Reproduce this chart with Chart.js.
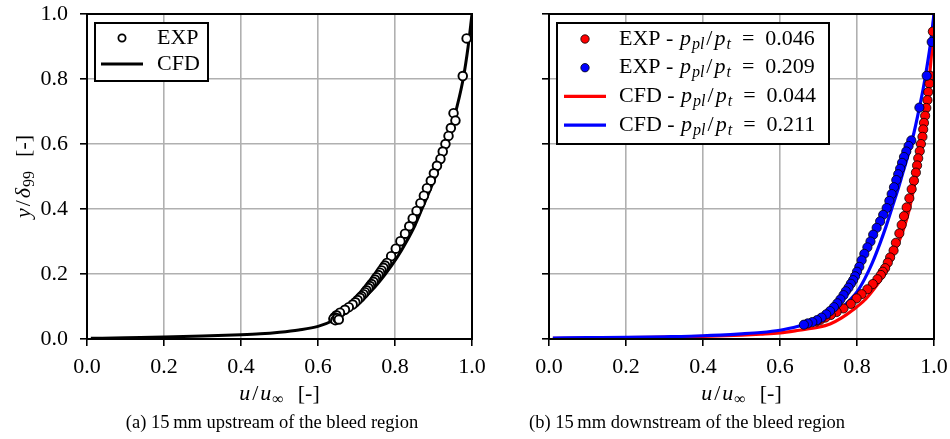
<!DOCTYPE html>
<html>
<head>
<meta charset="utf-8">
<script src="https://cdn.jsdelivr.net/npm/chart.js@4.4.1/dist/chart.umd.min.js"></script>
<style>
    html, body { margin: 0; padding: 0; background: #fff; }
    #wrap { position: relative; width: 950px; height: 439px; overflow: hidden; }
    canvas { position: absolute; top: 0; }
    #left { left: 0; }
    #right { left: 480px; }
</style>
</head>
<body>
<div id="wrap">
    <canvas id="left" width="510" height="439"></canvas>
    <canvas id="right" width="470" height="439"></canvas>
</div>
<script>
// Ticks
const uTicks = [0, 0.2, 0.4, 0.6, 0.8, 1.0];
const yTicks = [0, 0.2, 0.4, 0.6, 0.8, 1.0];
const tickLabels = ["0.0", "0.2", "0.4", "0.6", "0.8", "1.0"];

// Captions / legend text
const captions = ["(a) 15\u2009mm upstream of the bleed region", "(b) 15\u2009mm downstream of the bleed region"];
const seriesNames = ["EXP", "CFD"];
const expRatios = ["0.046", "0.209"];
const cfdRatios = ["0.044", "0.211"];

// (a) upstream, [u/u_inf, y/delta99]
const upstreamExp = [
    [0.986, 0.925], [0.976, 0.809], [0.952, 0.695], [0.957, 0.672], [0.945, 0.649], [0.939, 0.625],
    [0.931, 0.600], [0.924, 0.577], [0.918, 0.554], [0.909, 0.533], [0.901, 0.510], [0.893, 0.487],
    [0.883, 0.464], [0.875, 0.441], [0.866, 0.418], [0.856, 0.394], [0.846, 0.371], [0.837, 0.347],
    [0.826, 0.324], [0.814, 0.301], [0.802, 0.278], [0.790, 0.255], [0.779, 0.234], [0.774, 0.226],
    [0.770, 0.219], [0.765, 0.211], [0.761, 0.204], [0.757, 0.197], [0.752, 0.190], [0.748, 0.183],
    [0.744, 0.176], [0.739, 0.169], [0.735, 0.163], [0.731, 0.157], [0.726, 0.150], [0.722, 0.144],
    [0.718, 0.138], [0.713, 0.132], [0.709, 0.127], [0.703, 0.120], [0.697, 0.113], [0.690, 0.106],
    [0.680, 0.098], [0.670, 0.090], [0.657, 0.081], [0.648, 0.073], [0.643, 0.067], [0.640, 0.062],
    [0.645, 0.058], [0.650, 0.064], [0.654, 0.060]
];
const upstreamCfd = [
    [0.01, 0.002], [0.1, 0.004], [0.2, 0.006], [0.3, 0.009], [0.4, 0.013], [0.45, 0.016],
    [0.5, 0.021], [0.55, 0.028], [0.6, 0.039], [0.645, 0.060], [0.672, 0.080], [0.692, 0.100],
    [0.740, 0.150], [0.775, 0.200], [0.805, 0.250], [0.830, 0.300], [0.852, 0.350], [0.870, 0.400],
    [0.888, 0.450], [0.905, 0.500], [0.920, 0.550], [0.934, 0.600], [0.947, 0.650], [0.958, 0.700],
    [0.977, 0.800], [0.990, 0.900], [1.0, 1.0]
];

// (b) downstream
const downExpLow = [
    [0.997, 0.946], [0.990, 0.810], [0.988, 0.786], [0.985, 0.760], [0.983, 0.735], [0.980, 0.711],
    [0.977, 0.687], [0.974, 0.665], [0.972, 0.645], [0.970, 0.622], [0.966, 0.600], [0.963, 0.578],
    [0.959, 0.556], [0.956, 0.534], [0.953, 0.512], [0.948, 0.487], [0.942, 0.461], [0.936, 0.433],
    [0.929, 0.405], [0.922, 0.378], [0.916, 0.351], [0.910, 0.325], [0.901, 0.296], [0.895, 0.272],
    [0.886, 0.251], [0.880, 0.235], [0.873, 0.218], [0.867, 0.207], [0.862, 0.197], [0.853, 0.184],
    [0.841, 0.169], [0.827, 0.153], [0.812, 0.138], [0.799, 0.125], [0.784, 0.108], [0.765, 0.094],
    [0.747, 0.083], [0.732, 0.074], [0.718, 0.066], [0.705, 0.059], [0.695, 0.054]
];
const downExpHigh = [
    [0.994, 0.914], [0.981, 0.810], [0.962, 0.712], [0.941, 0.611], [0.934, 0.594], [0.928, 0.577],
    [0.922, 0.560], [0.917, 0.542], [0.912, 0.524], [0.907, 0.507], [0.902, 0.489], [0.896, 0.467],
    [0.890, 0.446], [0.884, 0.425], [0.877, 0.403], [0.868, 0.382], [0.860, 0.362], [0.851, 0.342],
    [0.842, 0.321], [0.835, 0.300], [0.827, 0.282], [0.819, 0.262], [0.812, 0.242], [0.806, 0.222],
    [0.800, 0.207], [0.795, 0.193], [0.790, 0.181], [0.784, 0.170], [0.778, 0.158], [0.771, 0.147],
    [0.765, 0.135], [0.757, 0.122], [0.749, 0.110], [0.740, 0.098], [0.730, 0.086], [0.720, 0.076],
    [0.708, 0.066], [0.696, 0.058], [0.684, 0.052], [0.672, 0.048], [0.662, 0.044]
];
const downCfdLow = [
    [0.01, 0.002], [0.1, 0.003], [0.2, 0.004], [0.3, 0.006], [0.4, 0.008], [0.5, 0.012],
    [0.55, 0.015], [0.6, 0.019], [0.65, 0.027], [0.7, 0.036], [0.73, 0.046], [0.76, 0.065],
    [0.79, 0.090], [0.82, 0.120], [0.84, 0.148], [0.86, 0.180], [0.88, 0.220], [0.90, 0.275],
    [0.92, 0.335], [0.935, 0.395], [0.946, 0.455], [0.958, 0.525], [0.968, 0.600], [0.976, 0.670],
    [0.984, 0.750], [0.990, 0.830], [0.995, 0.900], [0.998, 0.960], [1.0, 1.0]
];
const downCfdHigh = [
    [0.01, 0.003], [0.1, 0.004], [0.2, 0.005], [0.3, 0.007], [0.4, 0.010], [0.5, 0.016],
    [0.55, 0.020], [0.6, 0.027], [0.65, 0.040], [0.68, 0.050], [0.71, 0.063], [0.74, 0.078],
    [0.76, 0.095], [0.78, 0.118], [0.80, 0.145], [0.82, 0.185], [0.84, 0.235], [0.86, 0.295],
    [0.875, 0.345], [0.89, 0.400], [0.905, 0.455], [0.92, 0.515], [0.935, 0.575], [0.948, 0.635],
    [0.960, 0.700], [0.972, 0.770], [0.982, 0.840], [0.991, 0.910], [1.0, 1.0]
];

// Style
const serif = '"Liberation Serif", "Times New Roman", serif';
const tickFont = {family: serif, size: 22};
const RED = "#ff0000";
const BLUE = "#0000ff";

const toXY = (rows) => rows.map(r => ({x: r[0], y: r[1]}));

// rich text: parts = [{t, i (italic), s (subscript), g (extra gap after)}]
const partFont = (p, size) => `${p.i ? "italic " : ""}${p.s ? Math.round(size * 0.74) : size}px ${serif}`;

const drawRich = (ctx, parts, x, y, size, align) => {
    let w = 0;
    parts.forEach(p => {
        ctx.font = partFont(p, size);
        w += ctx.measureText(p.t).width + (p.g || 0);
    });
    let cx = align === "center" ? x - w / 2 : x;
    ctx.textAlign = "left";
    ctx.textBaseline = "middle";
    parts.forEach(p => {
        ctx.font = partFont(p, size);
        ctx.fillText(p.t, cx, y + (p.s ? size * 0.25 : 0));
        cx += ctx.measureText(p.t).width + (p.g || 0);
    });
};

const ratioParts = (name, value) => [
    {t: name + " - ", g: 1}, {t: "p", i: true, g: 1}, {t: "pl", i: true, s: true, g: 2}, {t: "/", g: 2},
    {t: "p", i: true, g: 1}, {t: "t", i: true, s: true}, {t: "\u2002=\u2002" + value}
];
const xTitle = [{t: "u", i: true, g: 2}, {t: "/", g: 2}, {t: "u", i: true, g: 1}, {t: "\u221E", s: true, g: 3}, {t: "  [-]"}];
const yTitle = [{t: "y", i: true, g: 2}, {t: "/", g: 2}, {t: "\u03B4", i: true, g: 1}, {t: "99", s: true, g: 3}, {t: "  [-]"}];

// Plugins
const makeDecor = (opts) => ({
    id: "decor",
    afterDatasetsDraw(chart) {
        const {ctx, chartArea: a} = chart;
        ctx.save();
        ctx.strokeStyle = "#000";
        ctx.lineWidth = 2;
        ctx.strokeRect(a.left, a.top, a.right - a.left, a.bottom - a.top);
        ctx.restore();
    },
    afterDraw(chart) {
        const {ctx, chartArea: a} = chart;
        ctx.save();
        ctx.fillStyle = "#000";
        // axis titles
        drawRich(ctx, xTitle, (a.left + a.right) / 2, 394, 22, "center");
        if (opts.yTitle) {
            ctx.save();
            ctx.translate(24, (a.top + a.bottom) / 2);
            ctx.rotate(-Math.PI / 2);
            drawRich(ctx, yTitle, 0, 0, 22, "center");
            ctx.restore();
        }
        // caption
        ctx.font = `18.5px ${serif}`;
        ctx.textAlign = "center";
        ctx.textBaseline = "middle";
        ctx.fillText(opts.caption, opts.captionX, 423);

        // legend
        const L = opts.legend;
        ctx.fillStyle = "#fff";
        ctx.fillRect(L.x, L.y, L.w, L.h);
        ctx.strokeStyle = "#000";
        ctx.lineWidth = 2;
        ctx.strokeRect(L.x, L.y, L.w, L.h);
        L.rows.forEach((row, i) => {
            const ry = L.firstRow + i * L.rowGap;
            if (row.kind === "point") {
                ctx.beginPath();
                ctx.arc(L.markX, ry, row.r, 0, Math.PI * 2);
                ctx.fillStyle = row.fill;
                ctx.fill();
                ctx.lineWidth = row.bw;
                ctx.strokeStyle = "#000";
                ctx.stroke();
            } else {
                ctx.beginPath();
                ctx.moveTo(L.markX - 21, ry);
                ctx.lineTo(L.markX + 21, ry);
                ctx.lineWidth = 3.2;
                ctx.strokeStyle = row.color;
                ctx.stroke();
            }
            ctx.fillStyle = "#000";
            drawRich(ctx, row.parts, L.textX, ry, 22, "left");
        });
        ctx.restore();
    }
});

const axisFit = (left, bottom) => ({
    y: (s) => { s.width = left; s.paddingTop = 0; s.paddingBottom = 0; },
    x: (s) => { s.height = bottom; s.paddingLeft = 0; s.paddingRight = 0; }
});

const makeScales = (left, showYLabels) => {
    const fit = axisFit(left, 100);
    const common = {
        type: "linear",
        min: 0,
        max: 1,
        grid: {color: "#b0b0b0", lineWidth: 1.6, tickLength: 7, tickColor: "#000", tickWidth: 1.6},
        border: {color: "#000", width: 2}
    };
    return {
        x: {
            ...common,
            afterBuildTicks: s => { s.ticks = uTicks.map(v => ({value: v})); },
            afterFit: fit.x,
            ticks: {font: tickFont, color: "#000", padding: 8, maxRotation: 0, autoSkip: false,
                callback: (v, i) => tickLabels[i]}
        },
        y: {
            ...common,
            afterBuildTicks: s => { s.ticks = yTicks.map(v => ({value: v})); },
            afterFit: fit.y,
            ticks: {display: showYLabels, font: tickFont, color: "#000", padding: 12, autoSkip: false,
                callback: (v, i) => tickLabels[i]}
        }
    };
};

const baseOptions = (scales, padRight) => ({
    responsive: false,
    animation: false,
    devicePixelRatio: 1,
    events: [],
    layout: {padding: {left: 0, top: 14, right: padRight, bottom: 0}},
    plugins: {legend: {display: false}, tooltip: {enabled: false}},
    scales: scales
});

// (a)
new Chart(document.querySelector("#left"), {
    type: "scatter",
    data: {
        datasets: [
            {
                data: toXY(upstreamExp), order: 1, clip: 0,
                pointRadius: 4.3, pointBorderWidth: 1.9,
                pointBackgroundColor: "#fff", pointBorderColor: "#000"
            },
            {
                data: toXY(upstreamCfd), order: 2, clip: 0, showLine: true,
                pointRadius: 0, borderColor: "#000", borderWidth: 3,
                cubicInterpolationMode: "monotone"
            }
        ]
    },
    options: baseOptions(makeScales(87, true), 38),
    plugins: [makeDecor({
        yTitle: true, caption: captions[0], captionX: 272,
        legend: {
            x: 95, y: 23, w: 113, h: 58, firstRow: 38, rowGap: 26, markX: 122, textX: 157,
            rows: [
                {kind: "point", fill: "#fff", r: 3.6, bw: 1.8, parts: [{t: seriesNames[0]}]},
                {kind: "line", color: "#000", parts: [{t: seriesNames[1]}]}
            ]
        }
    })]
});

// (b)
new Chart(document.querySelector("#right"), {
    type: "scatter",
    data: {
        datasets: [
            {
                data: toXY(downExpHigh), order: 0, clip: 0,
                pointRadius: 4.6, pointBorderWidth: 0.8,
                pointBackgroundColor: BLUE, pointBorderColor: "#000"
            },
            {
                data: toXY(downExpLow), order: 1, clip: 0,
                pointRadius: 4.6, pointBorderWidth: 0.8,
                pointBackgroundColor: RED, pointBorderColor: "#000"
            },
            {
                data: toXY(downCfdHigh), order: 2, clip: 0, showLine: true,
                pointRadius: 0, borderColor: BLUE, borderWidth: 3.2,
                cubicInterpolationMode: "monotone"
            },
            {
                data: toXY(downCfdLow), order: 3, clip: 0, showLine: true,
                pointRadius: 0, borderColor: RED, borderWidth: 3.2,
                cubicInterpolationMode: "monotone"
            }
        ]
    },
    options: baseOptions(makeScales(69, false), 16),
    plugins: [makeDecor({
        yTitle: false, caption: captions[1], captionX: 207,
        legend: {
            x: 77, y: 23, w: 272, h: 121, firstRow: 39, rowGap: 28.7, markX: 105, textX: 139,
            rows: [
                {kind: "point", fill: RED, r: 4.2, bw: 0.8, parts: ratioParts(seriesNames[0], expRatios[0])},
                {kind: "point", fill: BLUE, r: 4.2, bw: 0.8, parts: ratioParts(seriesNames[0], expRatios[1])},
                {kind: "line", color: RED, parts: ratioParts(seriesNames[1], cfdRatios[0])},
                {kind: "line", color: BLUE, parts: ratioParts(seriesNames[1], cfdRatios[1])}
            ]
        }
    })]
});
</script>
</body>
</html>
